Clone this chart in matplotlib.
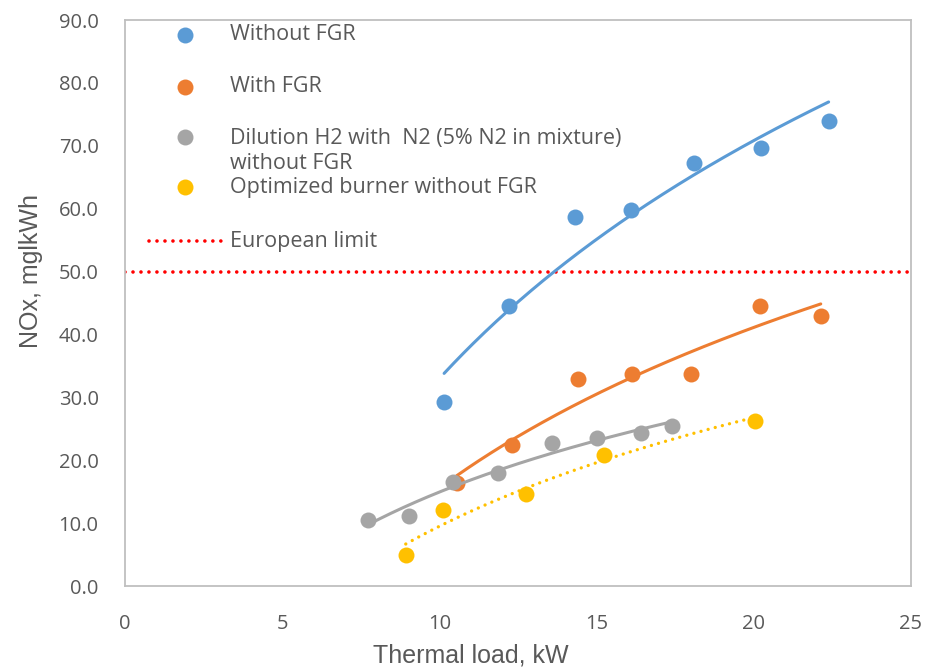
import numpy as np
import matplotlib
matplotlib.use("Agg")
import matplotlib.pyplot as plt
from matplotlib.lines import Line2D

# Measured NOx emissions versus thermal load
load_no_fgr = [10.15, 12.22, 14.31, 16.11, 18.09, 20.23, 22.38]
nox_no_fgr = [29.3, 44.6, 58.6, 59.8, 67.2, 69.6, 74.0]

load_fgr = [10.55, 12.30, 14.40, 16.12, 18.00, 20.21, 22.13]
nox_fgr = [16.3, 22.4, 32.9, 33.7, 33.7, 44.5, 43.0]

load_n2 = [7.74, 9.04, 10.44, 11.87, 13.59, 15.00, 16.41, 17.40]
nox_n2 = [10.5, 11.1, 16.5, 17.9, 22.7, 23.6, 24.4, 25.5]

load_opt = [8.93, 10.11, 12.74, 15.23, 20.03]
nox_opt = [4.9, 12.1, 14.7, 20.8, 26.3]

eu_limit = 50.0

x_ticks = [0, 5, 10, 15, 20, 25]
y_ticks = [0, 10, 20, 30, 40, 50, 60, 70, 80, 90]

labels = [
    "Without FGR",
    "With FGR",
    "Dilution H2 with  N2 (5% N2 in mixture)\nwithout FGR",
    "Optimized burner without FGR",
    "European limit",
]

BLUE = "#5B9BD5"
ORANGE = "#ED7D31"
GRAY = "#A5A5A5"
YELLOW = "#FFC000"
RED = "#FF0000"
TEXT = "#595959"

plt.rcParams["font.family"] = ["Open Sans", "DejaVu Sans"]

fig = plt.figure(figsize=(9.31, 6.72), dpi=100)
ax = fig.add_axes([125 / 931, 86 / 672, 786 / 931, 566 / 672])


def log_trend(x, y):
    x = np.asarray(x, float)
    y = np.asarray(y, float)
    a, b = np.polyfit(np.log(x), y, 1)
    xs = np.linspace(x.min(), x.max(), 200)
    return xs, a * np.log(xs) + b


MS = 11.5
dot_style = dict(linestyle=(0, (0.01, 2.2)), dash_capstyle="round")

# European limit
ax.plot([x_ticks[0], x_ticks[-1]], [eu_limit, eu_limit], color=RED, lw=2.6,
        zorder=2, **dot_style)

series = [
    (load_no_fgr, nox_no_fgr, BLUE, "-"),
    (load_fgr, nox_fgr, ORANGE, "-"),
    (load_n2, nox_n2, GRAY, "-"),
    (load_opt, nox_opt, YELLOW, ":"),
]
z = 3
for x, y, c, ls in series:
    ax.plot(x, y, "o", color=c, ms=MS, mec="none", zorder=z)
    xs, ys = log_trend(x, y)
    if ls == "-":
        ax.plot(xs, ys, color=c, lw=2.2, solid_capstyle="round", zorder=z + 1)
    else:
        ax.plot(xs, ys, color=c, lw=2.4, zorder=z + 1, **dot_style)
    z += 2

ax.set_xlim(x_ticks[0], x_ticks[-1])
ax.set_ylim(y_ticks[0], y_ticks[-1])
ax.set_xticks(x_ticks)
ax.set_yticks(y_ticks)
ax.set_xticklabels([f"{v:d}" for v in x_ticks])
ax.set_yticklabels([f"{v:.1f}" for v in y_ticks])
ax.tick_params(length=0, labelsize=14.5, colors=TEXT)
ax.tick_params(axis="y", pad=19)
ax.tick_params(axis="x", pad=20)
for sp in ax.spines.values():
    sp.set_color("#BFBFBF")
    sp.set_linewidth(1.3)

title_font = ["Liberation Sans Narrow", "Liberation Sans", "DejaVu Sans"]
ax.set_xlabel("Thermal load, kW", fontsize=18, color=TEXT, family=title_font)
ax.set_ylabel("NOx, mglkWh", fontsize=18, color=TEXT, family=title_font)
ax.xaxis.set_label_coords((471 - 125) / 786, -(643 - 586) / 566)
ax.yaxis.set_label_coords(-(125 - 43) / 786, (586 - 271) / 566)

# Legend drawn inside the plot area
def fx(px):
    return (px - 125) / 786


def fy(py):
    return (586 - py) / 566


marker_x = fx(185)
text_x = fx(230)
entry_y = [35, 87, 137, 187, 241]
text_y = [35, 87, 151, 187, 241]
colors = [BLUE, ORANGE, GRAY, YELLOW]
for i in range(4):
    ax.add_line(Line2D([marker_x], [fy(entry_y[i])], marker="o", ms=MS,
                       color=colors[i], mec="none", transform=ax.transAxes,
                       clip_on=False))
ax.add_line(Line2D([fx(149), fx(221)], [fy(entry_y[4])] * 2, color=RED, lw=2.6,
                   transform=ax.transAxes, clip_on=False, **dot_style))
for lab, ty in zip(labels, text_y):
    ax.text(text_x, fy(ty), lab, transform=ax.transAxes, fontsize=15.5,
            color=TEXT, va="center", ha="left", linespacing=1.3)

fig.savefig("out.png", dpi=100)
